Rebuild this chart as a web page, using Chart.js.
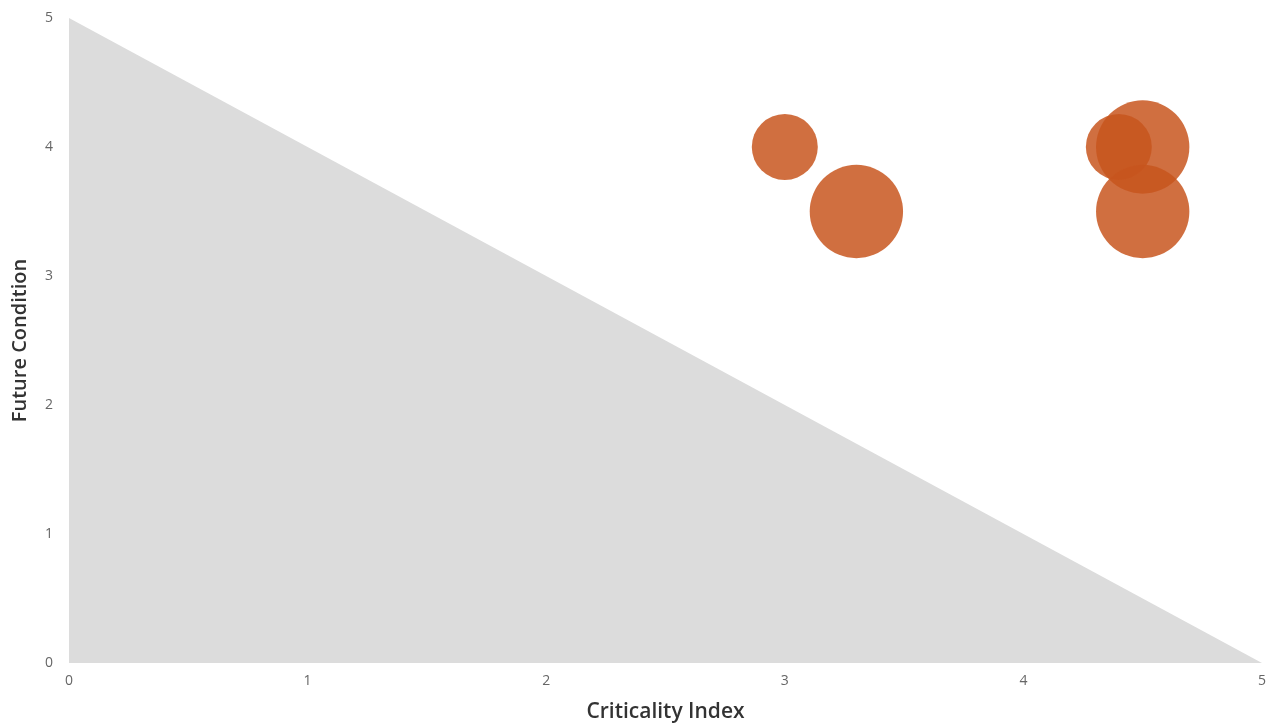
<!DOCTYPE html>
<html>
<head>
<meta charset="utf-8">
<script src="https://cdn.jsdelivr.net/npm/chart.js@4/dist/chart.umd.min.js"></script>
<style>
html,body{margin:0;padding:0;background:#fff;}
#wrap{width:1274px;height:725px;}
</style>
</head>
<body>
<div id="wrap"><canvas id="c" width="1274" height="725"></canvas></div>
<script>
// Bubble data
const criticality = [3.0, 3.3, 4.4, 4.5, 4.5];
const futureCondition = [4.0, 3.5, 4.0, 4.0, 3.5];
const bubbleSize = [1, 2, 1, 2, 2];
// Triangle boundary (reference area)
const boundaryX = [0, 5];
const boundaryY = [5, 0];
const xTicks = [0, 1, 2, 3, 4, 5];
const yTicks = [0, 1, 2, 3, 4, 5];

const bubbleData = criticality.map((x, i) => ({x: x, y: futureCondition[i], r: 33 * Math.sqrt(bubbleSize[i])}));
const lineData = boundaryX.map((x, i) => ({x: x, y: boundaryY[i]}));

new Chart(document.getElementById('c'), {
  type: 'bubble',
  data: {
    datasets: [
      {
        type: 'bubble',
        label: 'Assets',
        data: bubbleData,
        backgroundColor: 'rgba(200,86,30,0.85)',
        borderWidth: 0,
        hoverBorderWidth: 0,
        clip: false,
        order: 0
      },
      {
        type: 'line',
        label: 'Boundary',
        data: lineData,
        borderWidth: 0,
        borderColor: 'rgba(0,0,0,0)',
        backgroundColor: '#dcdcdc',
        pointRadius: 0,
        fill: 'origin',
        tension: 0,
        order: 1
      }
    ]
  },
  options: {
    responsive: false,
    animation: false,
    layout: {autoPadding: false, padding: {top: 18, right: 12, left: 0, bottom: 0}},
    plugins: {legend: {display: false}, tooltip: {enabled: false}},
    scales: {
      x: {
        type: 'linear', min: 0, max: 5,
        afterBuildTicks: (s) => { s.ticks = xTicks.map(v => ({value: v})); },
        afterFit: (s) => { s.height = 62; s.paddingLeft = 0; s.paddingRight = 0; },
        grid: {display: false, drawTicks: false},
        border: {display: false},
        ticks: {padding: 10, color: '#666', font: {family: 'Open Sans', size: 14}},
        title: {display: true, text: 'Criticality Index', color: '#333', padding: {top: 0, bottom: 0}, font: {family: 'Open Sans', size: 21, weight: '600'}}
      },
      y: {
        type: 'linear', min: 0, max: 5,
        afterBuildTicks: (s) => { s.ticks = yTicks.map(v => ({value: v})); },
        afterFit: (s) => { s.width = 69; s.paddingTop = 0; s.paddingBottom = 0; },
        grid: {display: false, drawTicks: false},
        border: {display: false},
        ticks: {padding: 16, color: '#666', font: {family: 'Open Sans', size: 14}},
        title: {display: true, text: 'Future Condition', color: '#333', padding: {top: 8, bottom: 0}, font: {family: 'Open Sans', size: 20, weight: '600'}}
      }
    }
  }
});
</script>
</body>
</html>
